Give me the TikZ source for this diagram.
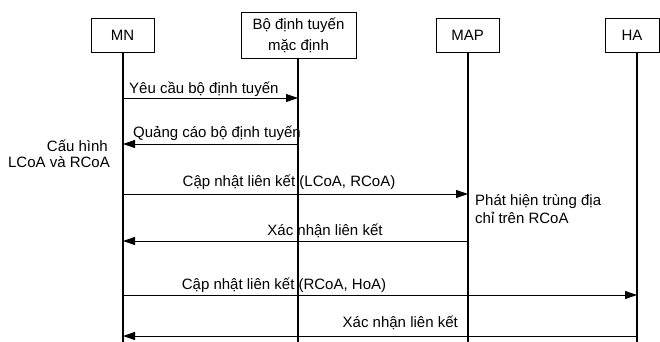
\documentclass[tikz,border=0pt]{standalone}
\usepackage{fontspec}
\setmainfont{Liberation Sans}
\usetikzlibrary{arrows.meta}
\begin{document}
\begin{tikzpicture}[x=1pt,y=-1pt,
  every node/.style={font=\fontsize{15}{21}\selectfont, inner sep=0pt},
  entity/.style={draw, line width=0.8pt, align=center},
  lifeline/.style={line width=1.3pt},
  msg/.style={line width=0.8pt, -{Triangle[length=12pt,width=8pt]}},
  lbl/.style={anchor=base},
  note/.style={align=left}]
\useasboundingbox (0,0) rectangle (660,342);

% participants
\node[entity, minimum width=63pt, minimum height=34pt] (mn) at (122.5,35) {MN};
\node[entity, minimum width=115pt, minimum height=46pt] (rt) at (298.5,35)
  {Bộ định tuyến\\mặc định};
\node[entity, minimum width=63pt, minimum height=34pt] (map) at (467.5,35) {MAP};
\node[entity, minimum width=54pt, minimum height=34pt] (ha) at (632,35) {HA};

% lifeline ends
\coordinate (mnE) at (123,342);
\coordinate (rtE) at (298,342);
\coordinate (mapE) at (468,342);
\coordinate (haE) at (637,342);
\draw[lifeline] (mn.south -| mnE) -- (mnE);
\draw[lifeline] (rt.south -| rtE) -- (rtE);
\draw[lifeline] (map.south -| mapE) -- (mapE);
\draw[lifeline] (ha.south -| haE) -- (haE);

% message end points on the lifelines
\coordinate (m1) at (123,98);   \coordinate (r1) at (298,98);
\coordinate (m2) at (123,144);  \coordinate (r2) at (298,144);
\coordinate (m3) at (123,194);  \coordinate (p3) at (468,194);
\coordinate (m4) at (123,241);  \coordinate (p4) at (468,241);
\coordinate (m5) at (123,295);  \coordinate (h5) at (637,295);
\coordinate (m6) at (123,336);  \coordinate (h6) at (637,336);

% messages
\draw[msg] (m1) -- (r1);
\node[lbl, anchor=base west] (t1) at (129,94) {Yêu cầu bộ định tuyến};
\draw[msg] (r2) -- (m2);
\node[lbl, anchor=base west] (t2) at (133,137) {Quảng cáo bộ định tuyến};
\draw[msg] (m3) -- (p3);
\node[lbl] (t3) at (289,186) {Cập nhật liên kết (LCoA, RCoA)};
\draw[msg] (p4) -- (m4);
\node[lbl] (t4) at (325,235) {Xác nhận liên kết};
\draw[msg] (m5) -- (h5);
\node[lbl] (t5) at (284,289) {Cập nhật liên kết (RCoA, HoA)};
\draw[msg] (h6) -- (m6);
\node[lbl, anchor=base east] (t6) at (458,327) {Xác nhận liên kết};

% local actions
\node[anchor=base east] (n1a) at (108,151) {Cấu hình};
\node[anchor=base east] (n1b) at (110,167) {LCoA và RCoA};
\node[anchor=base west] (n2a) at (475,205) {Phát hiện trùng địa};
\node[anchor=base west] (n2b) at (475,223) {chỉ trên RCoA};
\end{tikzpicture}
\end{document}
